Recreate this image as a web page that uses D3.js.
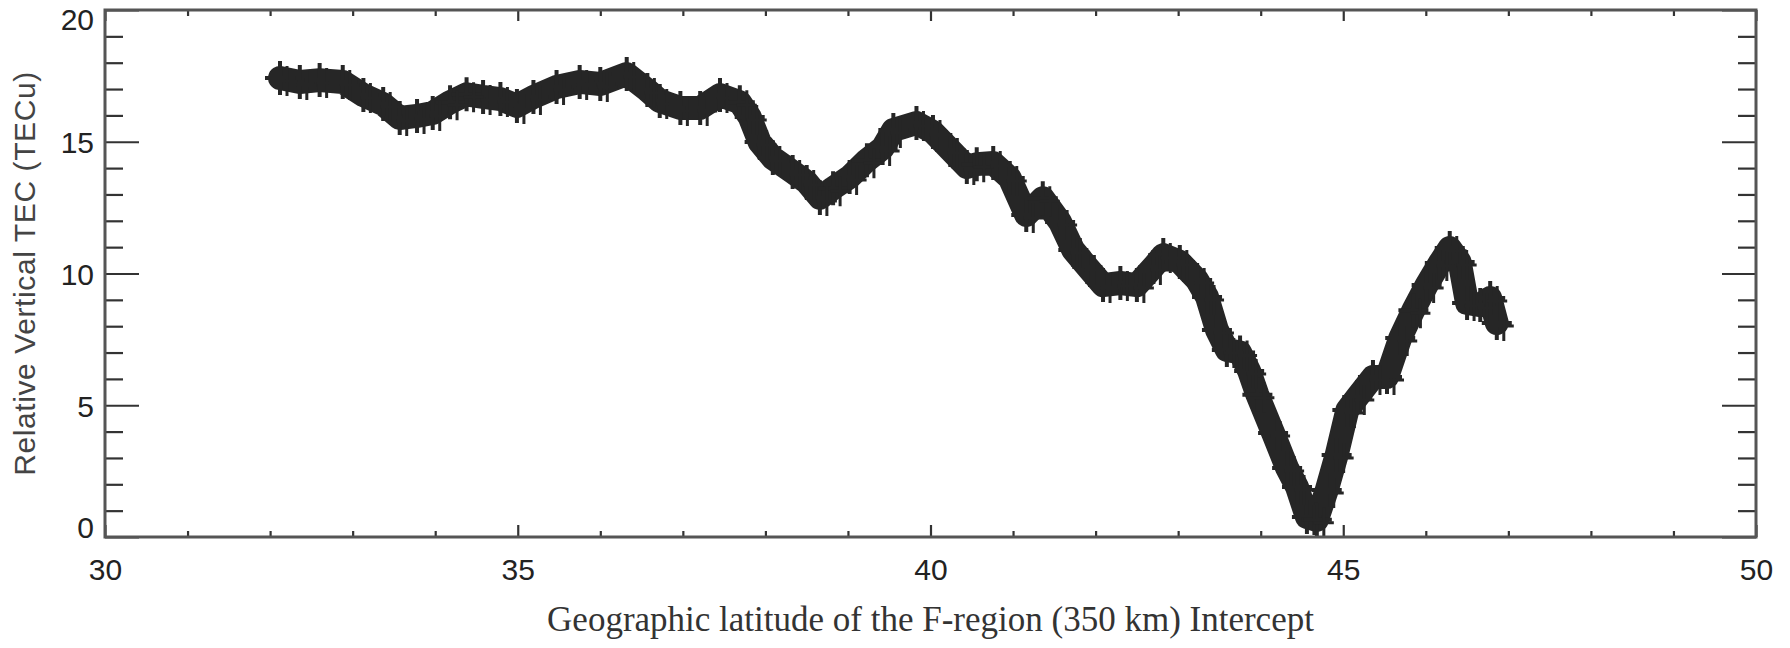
<!DOCTYPE html>
<html>
<head>
<meta charset="utf-8">
<script src="https://cdn.jsdelivr.net/npm/d3@7"></script>
<style>
  html, body { margin: 0; padding: 0; background: #fff; }
  svg { display: block; }
</style>
</head>
<body>
<svg id="chart" width="1790" height="648"></svg>
<script>
// ---- data ----
const latitude = [32.12, 32.36, 32.6, 32.88, 33.13, 33.37, 33.57, 33.78, 33.97, 34.18, 34.38, 34.58, 34.79, 34.99, 35.19, 35.47, 35.75, 36.0, 36.32, 36.57, 36.72, 36.97, 37.21, 37.45, 37.69, 37.81, 37.93, 38.09, 38.33, 38.5, 38.66, 38.82, 39.02, 39.23, 39.42, 39.55, 39.83, 40.03, 40.24, 40.44, 40.56, 40.76, 40.96, 41.16, 41.36, 41.57, 41.73, 41.9, 42.09, 42.3, 42.5, 42.7, 42.82, 43.02, 43.23, 43.35, 43.47, 43.59, 43.75, 43.86, 43.96, 44.15, 44.32, 44.44, 44.56, 44.68, 44.8, 44.92, 45.05, 45.17, 45.36, 45.53, 45.69, 45.85, 46.01, 46.17, 46.29, 46.41, 46.5, 46.66, 46.78, 46.86];
const tec = [17.42, 17.27, 17.34, 17.27, 16.77, 16.43, 15.9, 15.98, 16.09, 16.5, 16.8, 16.7, 16.62, 16.36, 16.7, 17.08, 17.27, 17.19, 17.57, 16.96, 16.55, 16.28, 16.28, 16.77, 16.5, 15.94, 14.99, 14.38, 13.85, 13.47, 12.87, 13.24, 13.66, 14.3, 14.76, 15.45, 15.71, 15.37, 14.69, 14.04, 14.15, 14.19, 13.62, 12.22, 12.86, 11.95, 10.89, 10.25, 9.56, 9.64, 9.56, 10.25, 10.7, 10.44, 9.75, 9.11, 7.86, 7.1, 7.0, 6.3, 5.4, 3.95, 2.62, 1.9, 0.76, 0.65, 1.78, 3.11, 4.82, 5.31, 6.07, 6.07, 7.55, 8.61, 9.56, 10.4, 10.97, 10.44, 8.88, 8.8, 9.07, 8.12];
const xMajorTicks = [30, 35, 40, 45, 50];
const xMinorTicks = [31, 32, 33, 34, 36, 37, 38, 39, 41, 42, 43, 44, 46, 47, 48, 49];
const yMajorTicks = [0, 5, 10, 15, 20];
const yMinorTicks = [1, 2, 3, 4, 6, 7, 8, 9, 11, 12, 13, 14, 16, 17, 18, 19];
const xTitle = "Geographic latitude of the F-region (350 km) Intercept";
const yTitle = "Relative Vertical TEC (TECu)";

// ---- layout ----
const L = 105, R = 1756, T = 10, B = 537;
const svg = d3.select("#chart");
const x = d3.scaleLinear().domain([30, 50]).range([L, R]);
const y = d3.scaleLinear().domain([0, 20]).range([B, T]);

const axisColor = "#555";
const tickColor = "#333";
const ink = "#262626";

svg.append("defs").append("clipPath").attr("id", "plotclip")
  .append("rect").attr("x", L).attr("y", T).attr("width", R - L).attr("height", B - T);

// data band (dense "+" symbols along the trace)
const pts = latitude.map((d, i) => [d, tec[i]]);
const g = svg.append("g").attr("clip-path", "url(#plotclip)");
g.append("path")
  .attr("d", d3.line().x(d => x(d[0])).y(d => y(d[1]))(pts))
  .attr("fill", "none").attr("stroke", ink)
  .attr("stroke-width", 24).attr("stroke-linejoin", "round").attr("stroke-linecap", "round");
function plus(cx, cy, w, h) {
  return `M${cx - w},${cy}H${cx + w}M${cx},${cy - h}V${cy + h}`;
}
g.selectAll("path.plus").data(pts).join("path")
  .attr("class", "plus")
  .attr("d", d => plus(x(d[0]), y(d[1]), 15, 17))
  .attr("stroke", ink).attr("stroke-width", 4).attr("fill", "none");
g.selectAll("path.plus2").data(pts).join("path")
  .attr("class", "plus2")
  .attr("d", d => plus(x(d[0]) + 7, y(d[1]) + 3, 10, 15))
  .attr("stroke", ink).attr("stroke-width", 3).attr("fill", "none");

function styleAxis(sel) {
  sel.select(".domain").remove();
  sel.selectAll(".tick line").attr("stroke", tickColor).attr("stroke-width", 2.2);
  sel.selectAll(".tick text").attr("fill", "#222")
    .attr("font-family", "'Liberation Sans', Arial, sans-serif").attr("font-size", 30);
}

// bottom
const xb = svg.append("g").attr("transform", `translate(0,${B})`)
  .call(d3.axisBottom(x).tickValues(xMajorTicks).tickSize(-12).tickPadding(0).tickFormat(d3.format("d")));
styleAxis(xb);
xb.selectAll(".tick text").attr("y", 43).attr("dy", 0);
const xbm = svg.append("g").attr("transform", `translate(0,${B})`)
  .call(d3.axisBottom(x).tickValues(xMinorTicks).tickSize(-6).tickFormat(""));
styleAxis(xbm);
// top
const xt = svg.append("g").attr("transform", `translate(0,${T})`)
  .call(d3.axisTop(x).tickValues(xMajorTicks).tickSize(-11).tickFormat(""));
styleAxis(xt);
const xtm = svg.append("g").attr("transform", `translate(0,${T})`)
  .call(d3.axisTop(x).tickValues(xMinorTicks).tickSize(-6).tickFormat(""));
styleAxis(xtm);
// left
const yl = svg.append("g").attr("transform", `translate(${L},0)`)
  .call(d3.axisLeft(y).tickValues(yMajorTicks).tickSize(-34).tickPadding(0).tickFormat(d3.format("d")));
styleAxis(yl);
yl.selectAll(".tick text").attr("x", -11).attr("dy", "0.36em")
  .attr("transform", d => d === 20 ? "translate(0,9)" : d === 0 ? "translate(0,-10)" : null);
const ylm = svg.append("g").attr("transform", `translate(${L},0)`)
  .call(d3.axisLeft(y).tickValues(yMinorTicks).tickSize(-18).tickFormat(""));
styleAxis(ylm);
// right
const yr = svg.append("g").attr("transform", `translate(${R},0)`)
  .call(d3.axisRight(y).tickValues(yMajorTicks).tickSize(-34).tickFormat(""));
styleAxis(yr);
const yrm = svg.append("g").attr("transform", `translate(${R},0)`)
  .call(d3.axisRight(y).tickValues(yMinorTicks).tickSize(-18).tickFormat(""));
styleAxis(yrm);

// frame
svg.append("rect").attr("x", L).attr("y", T).attr("width", R - L).attr("height", B - T)
  .attr("fill", "none").attr("stroke", axisColor).attr("stroke-width", 3);

// titles
svg.append("text")
  .attr("x", (L + R) / 2).attr("y", 631)
  .attr("text-anchor", "middle")
  .attr("font-family", "'Liberation Serif', 'Times New Roman', serif")
  .attr("font-size", 35).attr("fill", "#333")
  .text(xTitle);
svg.append("text")
  .attr("transform", `translate(35,${(T + B) / 2}) rotate(-90)`)
  .attr("text-anchor", "middle")
  .attr("font-family", "'Liberation Sans', Arial, sans-serif")
  .attr("font-size", 30).attr("letter-spacing", 0.6).attr("fill", "#444")
  .text(yTitle);
</script>
</body>
</html>
